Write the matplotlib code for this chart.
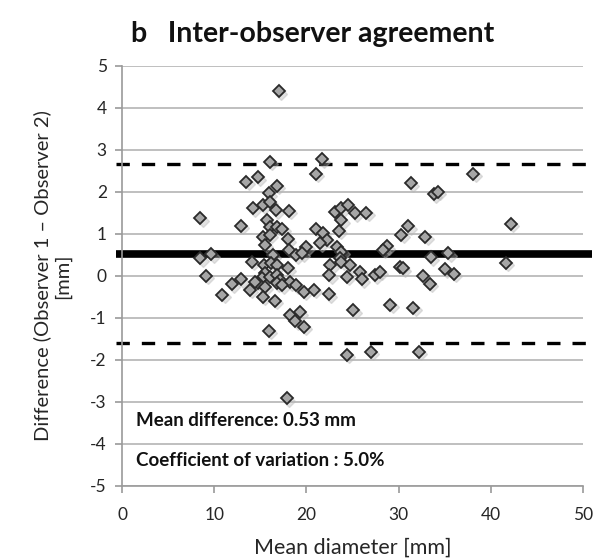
import matplotlib
matplotlib.use("Agg")
import matplotlib.pyplot as plt
import matplotlib.transforms as mtransforms
import numpy as np

mean_diameter = [
    8.5, 8.5, 9.7, 9.1, 10.9, 11.9, 12.9, 12.9, 13.5, 14.7,
    14.2, 15.3, 16.05, 16.8, 15.9, 16.05, 16.7, 18.1, 15.7, 16.05,
    16.8, 17.4, 15.3, 16.05, 18.0, 15.5, 18.1, 18.9, 14.1, 16.4,
    15.4, 16.2, 16.8, 18.0, 15.5, 15.2, 16.05, 16.8, 17.1, 16.8,
    18.2, 18.9, 19.7, 20.8, 22.4, 13.9, 14.8, 15.5, 15.3, 16.6,
    18.2, 19.3, 18.8, 19.7, 15.9, 17.9, 17.0,
    21.7, 21.0, 23.1, 23.8, 24.5, 25.3, 26.5, 23.8, 21.0, 21.8,
    23.5, 22.2, 21.5, 20.0, 19.5, 23.3, 23.8, 23.6, 22.6, 23.8,
    24.7, 22.5, 24.4, 25.8, 26.0, 27.4, 28.0, 25.1, 29.1, 24.4,
    27.0, 28.7, 28.3,
    30.2, 30.5, 31.05, 30.3, 31.3, 33.8, 34.3, 38.1, 42.2, 32.9,
    35.4, 33.5, 41.6, 35.0, 36.0, 32.6, 33.4, 31.6, 32.2,
    14.4, 17.3,
]
difference = [
    1.38, 0.42, 0.52, 0.01, -0.45, -0.20, -0.08, 1.20, 2.25, 2.35,
    1.61, 1.69, 2.72, 2.15, 1.97, 1.77, 1.56, 1.55, 1.33, 1.16,
    1.17, 1.12, 0.94, 0.98, 0.88, 0.74, 0.62, 0.50, 0.34, 0.50,
    0.26, 0.30, 0.26, 0.18, 0.06, -0.05, -0.02, 0.02, -0.10, -0.17,
    -0.15, -0.22, -0.37, -0.33, -0.43, -0.33, -0.17, -0.25, -0.49, -0.59,
    -0.93, -0.86, -1.08, -1.21, -1.30, -2.91, 4.40,
    2.78, 2.43, 1.53, 1.61, 1.69, 1.49, 1.51, 1.33, 1.13, 1.02,
    1.08, 0.86, 0.78, 0.70, 0.54, 0.70, 0.58, 0.42, 0.26, 0.34,
    0.26, 0.02, -0.02, 0.10, -0.08, 0.02, 0.10, -0.81, -0.69, -1.88,
    -1.80, 0.71, 0.62,
    0.22, 0.18, 1.19, 0.98, 2.21, 1.95, 2.01, 2.44, 1.25, 0.94,
    0.54, 0.45, 0.32, 0.16, 0.05, 0.00, -0.19, -0.75, -1.80,
    -0.14, -0.22,
]
mean_diff = 0.53
upper_loa = 2.66
lower_loa = -1.60

x_ticks = [0, 10, 20, 30, 40, 50]
y_ticks = [-5, -4, -3, -2, -1, 0, 1, 2, 3, 4, 5]

FONT = ["Lato", "DejaVu Sans"]
plt.rcParams["font.family"] = FONT
plt.rcParams["axes.unicode_minus"] = False

fig = plt.figure(figsize=(6.05, 5.6), dpi=100)
ax = fig.add_axes([122 / 605, 1 - 486 / 560, 461 / 605, 420 / 560])

ax.set_xlim(0, 50)
ax.set_ylim(-5, 5)
ax.set_xticks(x_ticks)
ax.set_yticks(y_ticks)

ax.grid(axis="y", color="#b4b4b4", linewidth=1.2, zorder=0)
ax.set_axisbelow(True)
for side in ["top", "right"]:
    ax.spines[side].set_visible(False)
for side in ["left", "bottom"]:
    ax.spines[side].set_color("#9a9a9a")
    ax.spines[side].set_linewidth(1.2)
ax.tick_params(axis="both", colors="#9a9a9a", width=1.2, length=5,
               labelcolor="#262626", labelsize=12.5)
ax.tick_params(axis="x", pad=10)
ax.tick_params(axis="y", pad=6)

# reference lines
xs = [-0.6, 51.0]
ax.plot(xs, [mean_diff, mean_diff], color="black", linewidth=5.5,
        solid_capstyle="butt", clip_on=False, zorder=2)
for v in (upper_loa, lower_loa):
    ax.plot(xs, [v, v], color="black", linewidth=2.4,
            linestyle=(0, (4.0, 3.6)), dash_capstyle="butt",
            clip_on=False, zorder=2)

# shadow
shadow = mtransforms.offset_copy(ax.transData, fig=fig, x=1.6, y=-1.8, units="points")
ax.plot(mean_diameter, difference, linestyle="none", marker="D", markersize=6.6,
        markerfacecolor="#b8b8b8", markeredgecolor="#b8b8b8", alpha=0.4,
        transform=shadow, zorder=3, clip_on=False)
ax.plot(mean_diameter, difference, linestyle="none", marker="D", markersize=6.6,
        markerfacecolor="#a6a6a6", markeredgecolor="#2a2a2a", markeredgewidth=1.3,
        zorder=4, clip_on=False)

ax.text(1.5, -3.43, "Mean difference: 0.53 mm", fontsize=13.5, fontweight="bold",
        color="#111111", va="center", ha="left")
ax.text(1.5, -4.4, "Coefficient of variation : 5.0%", fontsize=13.5,
        fontweight="bold", color="#111111", va="center", ha="left")

ax.set_xlabel("Mean diameter [mm]", fontsize=15.5, color="#262626", labelpad=11)
ax.set_ylabel("Difference (Observer 1 \u2013 Observer 2)\n[mm]", fontsize=14.5,
              color="#262626", labelpad=14, linespacing=1.15)

fig.text(0.517, 0.94, "b   Inter-observer agreement", fontsize=20.5,
         fontweight="bold", ha="center", va="center", color="#111111")

fig.savefig("out.png", dpi=100)
